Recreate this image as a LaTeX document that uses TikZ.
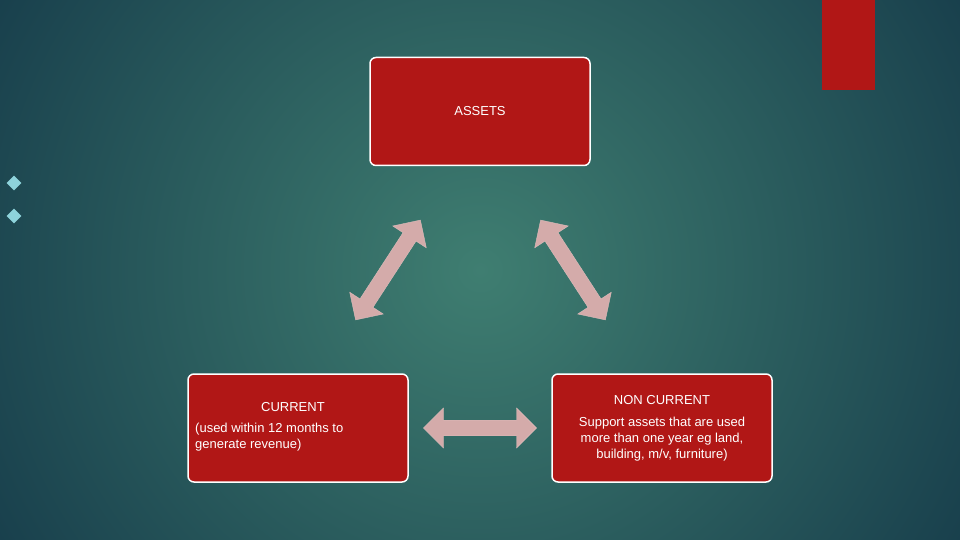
\documentclass[tikz,border=0pt]{standalone}
\usepackage{fontspec}
\setmainfont{Liberation Sans}
\usetikzlibrary{shapes.arrows,shapes.geometric}
\definecolor{boxred}{HTML}{B11716}
\definecolor{arrpink}{HTML}{D4ABAA}
\definecolor{bgin}{HTML}{3F7E71}
\definecolor{bgout}{HTML}{173D4B}
\definecolor{dia}{HTML}{8ED3DB}
\tikzset{
 box/.style={draw=white,line width=1.5pt,fill=boxred,rounded corners=6pt,minimum width=220pt,minimum height=108pt,text=white,font=\fontsize{13}{16}\selectfont,align=center,inner sep=4pt},
 darr/.style={double arrow,fill=arrpink,draw=arrpink!80!white,minimum width=40pt,double arrow head extend=9pt,double arrow head indent=0pt,inner sep=0pt,text height=0pt,text depth=11pt},
 bul/.style={diamond,fill=dia,minimum width=15pt,minimum height=15pt,inner sep=0pt}
}
\begin{document}
\begin{tikzpicture}[x=1pt,y=-1pt]
\useasboundingbox (0,0) rectangle (960,540);
\fill[bgout] (0,0) rectangle (960,540);
\shade[inner color=bgin,outer color=bgout] (-100,-300) rectangle (1060,840);
\fill[boxred] (822,0) rectangle (875,90);
\node[bul] (b1) at (14,183) {};
\node[bul] (b2) at (14,216) {};
\node[box] (assets) at (480,111.5) {ASSETS};
\node[box] (cur) at (298,428) {};
\node[text=white,font=\fontsize{13}{16}\selectfont,align=left,anchor=north west,inner sep=0pt] (curt) at (195,402) {\hspace*{66pt}CURRENT\\[5pt](used within 12 months to\\generate revenue)};
\node[box] (ncur) at (662,428) {NON CURRENT\\[6pt]Support assets that are used\\more than one year eg land,\\building, m/v, furniture)};
\node[darr,minimum height=119pt,rotate=57] (a1) at (388,270) {};
\node[darr,minimum height=119pt,rotate=-57] (a2) at (573,270) {};
\node[darr,minimum height=113pt] (a3) at (480,428) {};
\end{tikzpicture}
\end{document}
